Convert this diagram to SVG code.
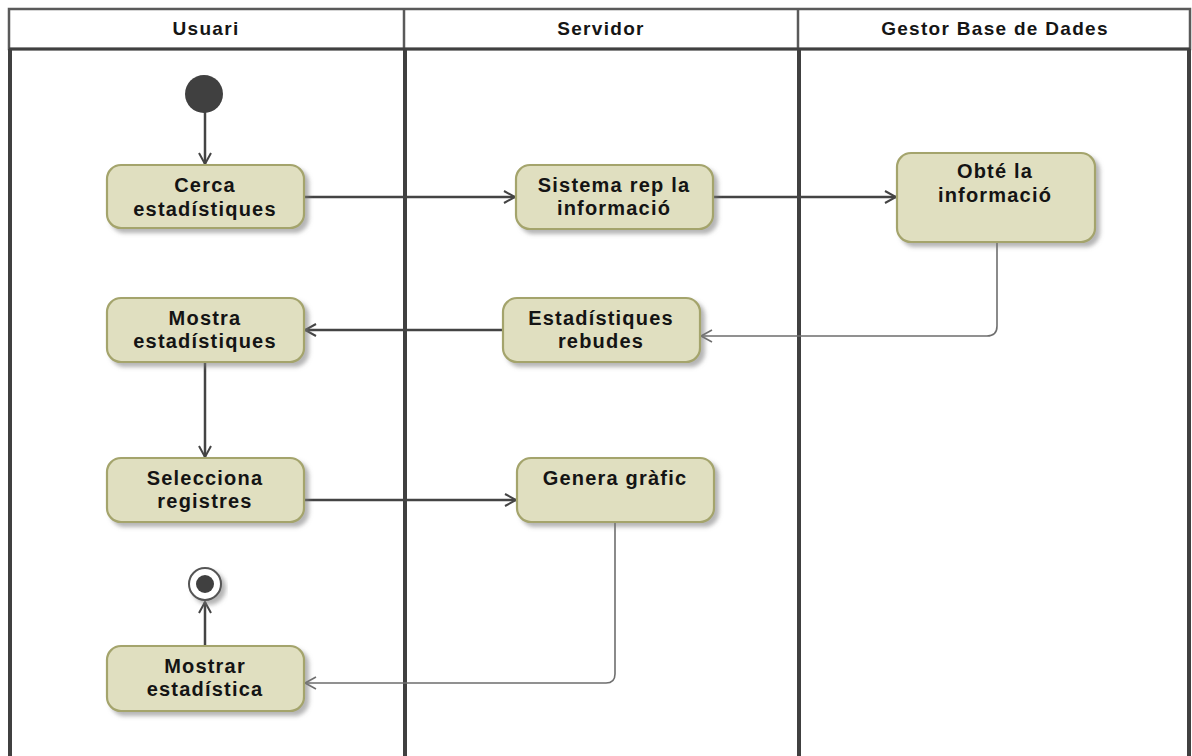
<svg xmlns="http://www.w3.org/2000/svg" width="1192" height="756" viewBox="0 0 1192 756">
  <style>
    .lane-head { fill: #ffffff; stroke: #5a5a5a; stroke-width: 2.5; }
    .lane-line { stroke: #404040; stroke-width: 4; }
    .head-text { font-family: "Liberation Sans", Arial, sans-serif; font-size: 19px; font-weight: bold; fill: #151515; letter-spacing: 1.3px; text-anchor: middle; }
    .act rect { fill: #e0dfc0; stroke: #a4a46c; stroke-width: 2.2; }
    .act text { font-family: "Liberation Sans", Arial, sans-serif; font-size: 20px; font-weight: bold; fill: #141414; letter-spacing: 1.2px; text-anchor: middle; }
    .flow { fill: none; stroke: #444444; stroke-width: 2.5; marker-end: url(#arrowDark); }
    .flow-light { fill: none; stroke: #6e6e6e; stroke-width: 1.6; marker-end: url(#arrowLight); }
  </style>
  <defs>
    <filter id="shadow" x="-10%" y="-10%" width="130%" height="140%">
      <feDropShadow dx="4" dy="4" stdDeviation="2" flood-color="#777777" flood-opacity="0.55"/>
    </filter>
    <marker id="arrowDark" viewBox="0 0 14 14" markerWidth="14" markerHeight="14" refX="12" refY="7" orient="auto" markerUnits="userSpaceOnUse">
      <path d="M1,1 L12,7 L1,13" fill="none" stroke="#444444" stroke-width="2"/>
    </marker>
    <marker id="arrowLight" viewBox="0 0 14 14" markerWidth="14" markerHeight="14" refX="12" refY="7" orient="auto" markerUnits="userSpaceOnUse">
      <path d="M1,1 L12,7 L1,13" fill="none" stroke="#6e6e6e" stroke-width="1.6"/>
    </marker>
  </defs>

  <rect width="1192" height="756" fill="#ffffff"/>

  <!-- swimlanes -->
  <g id="lanes">
    <rect class="lane-head" x="9" y="9" width="1181" height="40"/>
    <line x1="404" y1="9" x2="404" y2="49" stroke="#5a5a5a" stroke-width="2.5"/>
    <line x1="798" y1="9" x2="798" y2="49" stroke="#5a5a5a" stroke-width="2.5"/>
    <line x1="9" y1="49" x2="1190" y2="49" stroke="#404040" stroke-width="3"/>
    <line class="lane-line" x1="10" y1="49" x2="10" y2="756"/>
    <line class="lane-line" x1="405" y1="49" x2="405" y2="756"/>
    <line class="lane-line" x1="799" y1="49" x2="799" y2="756"/>
    <line class="lane-line" x1="1189" y1="49" x2="1189" y2="756"/>
    <text class="head-text" x="206" y="35">Usuari</text>
    <text class="head-text" x="601" y="35">Servidor</text>
    <text class="head-text" x="995" y="35">Gestor Base de Dades</text>
  </g>

  <!-- connectors -->
  <g id="connectors">
    <path class="flow" d="M205,112 L205,164"/>
    <path class="flow" d="M304,197 L515,197"/>
    <path class="flow" d="M714,197 L896,197"/>
    <path class="flow-light" d="M997,242 L997,326 Q997,336 987,336 L701,336"/>
    <path class="flow" d="M503,330 L305,330"/>
    <path class="flow" d="M205,362 L205,457"/>
    <path class="flow" d="M304,500 L516,500"/>
    <path class="flow-light" d="M615,522 L615,674 Q615,683 606,683 L305,683"/>
    <path class="flow" d="M205,646 L205,602"/>
  </g>

  <!-- initial node -->
  <g id="start">
    <circle cx="204" cy="94" r="19" fill="#404040"/>
  </g>

  <g id="cerca" class="act">
    <rect x="107" y="165" width="197" height="63" rx="14" filter="url(#shadow)"/>
    <text x="205" y="192">Cerca</text>
    <text x="205" y="216">estadístiques</text>
  </g>

  <g id="sistema" class="act">
    <rect x="516" y="165" width="197" height="64" rx="14" filter="url(#shadow)"/>
    <text x="614" y="192">Sistema rep la</text>
    <text x="614" y="215">informació</text>
  </g>

  <g id="obte" class="act">
    <rect x="897" y="153" width="198" height="89" rx="14" filter="url(#shadow)"/>
    <text x="995" y="178">Obté la</text>
    <text x="995" y="202">informació</text>
  </g>

  <g id="mostra" class="act">
    <rect x="107" y="298" width="197" height="64" rx="14" filter="url(#shadow)"/>
    <text x="205" y="325">Mostra</text>
    <text x="205" y="348">estadístiques</text>
  </g>

  <g id="rebudes" class="act">
    <rect x="503" y="298" width="197" height="64" rx="14" filter="url(#shadow)"/>
    <text x="601" y="325">Estadístiques</text>
    <text x="601" y="348">rebudes</text>
  </g>

  <g id="selecciona" class="act">
    <rect x="107" y="458" width="197" height="64" rx="14" filter="url(#shadow)"/>
    <text x="205" y="485">Selecciona</text>
    <text x="205" y="508">registres</text>
  </g>

  <g id="genera" class="act">
    <rect x="517" y="458" width="197" height="64" rx="14" filter="url(#shadow)"/>
    <text x="615" y="485">Genera gràfic</text>
  </g>

  <g id="mostrar" class="act">
    <rect x="107" y="646" width="197" height="65" rx="14" filter="url(#shadow)"/>
    <text x="205" y="673">Mostrar</text>
    <text x="205" y="696">estadística</text>
  </g>

  <!-- final node -->
  <g id="end">
    <circle cx="205" cy="584" r="16" fill="#ffffff" stroke="#555555" stroke-width="2" filter="url(#shadow)"/>
    <circle cx="205" cy="584" r="9" fill="#404040"/>
  </g>
</svg>
